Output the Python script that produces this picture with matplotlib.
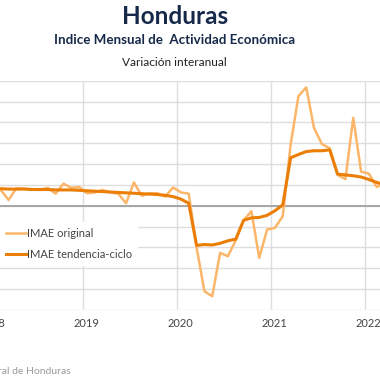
import matplotlib
matplotlib.use("Agg")
import matplotlib.pyplot as plt
import matplotlib.transforms as mtransforms
import numpy as np

# ---- data ----
start_year = 2018
original = [4.0, 3.8, 1.4, 4.2, 4.1, 3.9, 3.8, 4.3, 2.9, 5.3, 4.3, 4.5,
            3.0, 3.2, 3.8, 3.2, 2.9, 0.6, 5.6, 2.4, 3.0, 3.0, 2.2, 4.4,
            3.2, 2.9, -10.0, -20.5, -21.7, -11.3, -12.1, -8.3, -3.5, -1.3, -12.5, -5.7,
            -5.3, -2.5, 14.6, 26.3, 28.4, 18.6, 14.8, 13.8, 7.4, 6.4, 21.1, 8.2,
            7.7, 4.5, 5.5]
trend = [4.1, 4.1, 4.0, 4.0, 4.0, 3.9, 3.9, 3.9, 3.8, 3.8, 3.8, 3.7,
         3.6, 3.5, 3.4, 3.3, 3.2, 3.1, 3.0, 2.9, 2.8, 2.7, 2.5, 2.2,
         1.6, 0.6, -9.5, -9.3, -9.4, -9.0, -8.4, -8.0, -3.5, -2.9, -2.8, -2.3,
         -1.2, 0.2, 11.5, 12.3, 13.0, 13.2, 13.2, 13.4, 7.6, 7.4, 7.2, 6.9,
         6.3, 5.6, 5.0]
year_ticks = [2018, 2019, 2020, 2021, 2022]
year_labels = ["2018", "2019", "2020", "2021", "2022"]
y_ticks = [-25, -20, -15, -10, -5, 0, 5, 10, 15, 20, 25, 30]

x = start_year + (np.arange(len(original)) + 0.5) / 12.0

plt.rcParams['font.family'] = ['Lato', 'DejaVu Sans']

W = H = 380
fig = plt.figure(figsize=(3.8, 3.8), dpi=100)

left_px = -11
right_px = left_px + 94 * 4.5
top_px = 80.7
bot_px = 310
ax = fig.add_axes([left_px / W, (H - bot_px) / H, (right_px - left_px) / W, (bot_px - top_px) / H])
ax.set_xlim(2018.0, 2022.5)
ax.set_ylim(-25, 30)

for s in ax.spines.values():
    s.set_visible(False)
ax.set_yticks(y_ticks)
ax.set_xticks(year_ticks)
ax.set_xticklabels(year_labels, fontsize=8, color='#444444')
ax.tick_params(axis='y', left=False, labelleft=False)
ax.tick_params(axis='x', bottom=False, pad=2)
offset = mtransforms.ScaledTranslation(3.5 / 100, 0, fig.dpi_scale_trans)
for lab in ax.get_xticklabels():
    lab.set_transform(lab.get_transform() + offset)
ax.grid(True, color='#dedede', linewidth=1.0)
ax.set_axisbelow(True)
ax.axhline(0, color='#a0a0a0', linewidth=1.3, zorder=1)

ax.plot(x, original, color='#FBB66A', linewidth=1.8, label='IMAE original', zorder=3)
ax.plot(x, trend, color='#EB7E07', linewidth=2.2, label='IMAE tendencia-ciclo', zorder=4)

leg = ax.legend(loc='upper left', bbox_to_anchor=(0.0, (H - 222) / H),
                bbox_transform=fig.transFigure, frameon=True, fancybox=False,
                facecolor='white', edgecolor='none', framealpha=1.0,
                fontsize=8, handlelength=1.8, handletextpad=0.15,
                labelspacing=0.95, borderpad=0.5, borderaxespad=0)
for t in leg.get_texts():
    t.set_color('#444444')

fig.text(175 / W, 1 - 16 / H, "Honduras", ha='center', va='center',
         fontsize=17.5, fontweight='bold', color='#16294A')
fig.text(175 / W, 1 - 40 / H, "Indice Mensual de  Actividad Económica", ha='center', va='center',
         fontsize=9.6, fontweight='bold', color='#16294A')
fig.text(174 / W, 1 - 62 / H, "Variación interanual", ha='center', va='center',
         fontsize=8.6, color='#222222')
fig.text(71 / W, 1 - 372 / H, "Fuente: Banco Central de Honduras", ha='right', va='center',
         fontsize=7.5, color='#9a9a9a')

fig.savefig("out.png", dpi=100)
